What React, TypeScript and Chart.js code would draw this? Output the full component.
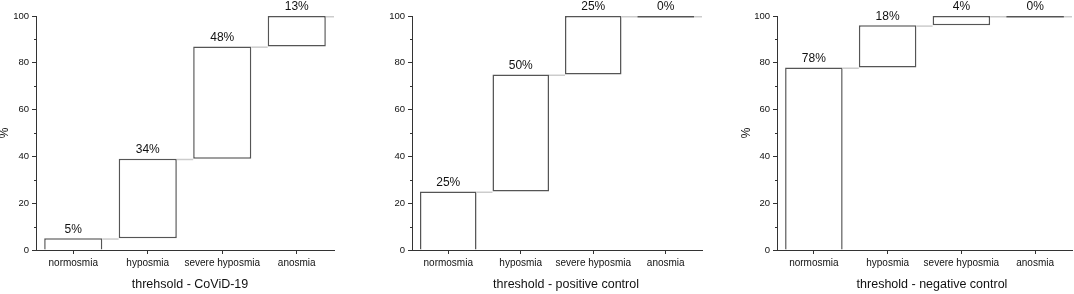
import React, { useEffect, useRef } from "react";
import { Chart, registerables } from "chart.js";

Chart.register(...registerables);

const CATEGORIES = ["normosmia", "hyposmia", "severe hyposmia", "anosmia"];
const COVID_PCT = [5, 34, 48, 13];
const POSITIVE_PCT = [25, 50, 25, 0];
const NEGATIVE_PCT = [78, 18, 4, 0];
const Y_MIN = 0;
const Y_MAX = 100;
const Y_MAJOR_STEP = 20;
const Y_MINOR_TICKS = [10, 30, 50, 70, 90];
const TITLE_COVID = "threhsold - CoViD-19";
const TITLE_POSITIVE = "threshold - positive control";
const TITLE_NEGATIVE = "threshold - negative control";
const Y_LABEL = "%";

const FONT = "'Liberation Sans', Arial, Helvetica, sans-serif";
const TEXT = "#111111";
const AXIS = "#333333";
const BAR_BORDER = "#555555";
const CONNECTOR = "#cccccc";

type PanelCfg = {
  pct: number[];
  title: string;
  left: number;
  width: number;
  yWidth: number;
  padRight: number;
  showYTitle: boolean;
  yTitlePad: number;
  titleCenter: number;
};

const waterfallPlugin = {
  id: "waterfallExtras",
  afterDatasetsDraw(chart: any, _args: any, opts: any) {
    const { ctx, chartArea } = chart;
    const yScale = chart.scales.y;
    const meta = chart.getDatasetMeta(0);
    const pct: number[] = opts.pct;
    const ranges: number[][] = chart.data.datasets[0].data;
    ctx.save();
    // connectors
    ctx.strokeStyle = CONNECTOR;
    ctx.lineWidth = 1.5;
    for (let i = 0; i < meta.data.length; i++) {
      const el = meta.data[i];
      const { x, width } = el.getProps(["x", "width"], true);
      const level = yScale.getPixelForValue(ranges[i][1]) + 0.75;
      const x0 = x + width / 2;
      let x1 = chartArea.right;
      if (i < meta.data.length - 1) {
        const nx = meta.data[i + 1].getProps(["x", "width"], true);
        x1 = nx.x - nx.width / 2;
      }
      ctx.beginPath();
      ctx.moveTo(x0, level);
      ctx.lineTo(x1, level);
      ctx.stroke();
    }
    // zero-height bars
    ctx.strokeStyle = BAR_BORDER;
    ctx.lineWidth = 1.5;
    for (let i = 0; i < meta.data.length; i++) {
      if (ranges[i][1] === ranges[i][0]) {
        const { x, width } = meta.data[i].getProps(["x", "width"], true);
        const level = yScale.getPixelForValue(ranges[i][1]) + 0.75;
        ctx.beginPath();
        ctx.moveTo(x - width / 2, level);
        ctx.lineTo(x + width / 2, level);
        ctx.stroke();
      }
    }
    // value labels
    ctx.fillStyle = TEXT;
    ctx.font = `12px ${FONT}`;
    ctx.textAlign = "center";
    ctx.textBaseline = "middle";
    for (let i = 0; i < meta.data.length; i++) {
      const { x } = meta.data[i].getProps(["x"], true);
      const top = yScale.getPixelForValue(ranges[i][1]);
      ctx.fillText(`${pct[i]}%`, x, top - 9);
    }
    // minor ticks
    ctx.strokeStyle = AXIS;
    ctx.lineWidth = 1;
    for (const v of Y_MINOR_TICKS) {
      const py = Math.round(yScale.getPixelForValue(v)) + 0.5;
      ctx.beginPath();
      ctx.moveTo(chartArea.left - 2, py);
      ctx.lineTo(chartArea.left, py);
      ctx.stroke();
    }
    // x title
    ctx.fillStyle = TEXT;
    ctx.font = `12.5px ${FONT}`;
    ctx.textAlign = "center";
    ctx.textBaseline = "middle";
    ctx.fillText(opts.title, opts.titleCenter, 285);
    ctx.restore();
  },
};

function Panel({ cfg }: { cfg: PanelCfg }) {
  const ref = useRef<HTMLCanvasElement | null>(null);
  useEffect(() => {
    if (!ref.current) return;
    const ranges: number[][] = [];
    let acc = 0;
    for (const p of cfg.pct) {
      ranges.push([acc, acc + p]);
      acc += p;
    }
    const chart = new Chart(ref.current, {
      type: "bar",
      data: {
        labels: CATEGORIES,
        datasets: [
          {
            data: ranges as any,
            backgroundColor: "#ffffff",
            borderColor: BAR_BORDER,
            borderWidth: 1.5,
            borderSkipped: (c: any) => (ranges[c.dataIndex] && ranges[c.dataIndex][0] === Y_MIN ? "bottom" : false),
            barPercentage: 0.78,
            categoryPercentage: 1,
          },
        ],
      },
      plugins: [waterfallPlugin],
      options: {
        responsive: false,
        animation: false,
        devicePixelRatio: 1,
        layout: { padding: { top: 16, right: cfg.padRight, bottom: 0, left: 0 } },
        plugins: {
          legend: { display: false },
          tooltip: { enabled: false },
          waterfallExtras: { pct: cfg.pct, title: cfg.title, titleCenter: cfg.titleCenter },
        } as any,
        scales: {
          x: {
            type: "category",
            offset: true,
            grid: { display: true, offset: false, drawOnChartArea: false, drawTicks: true, tickLength: 4, color: AXIS },
            border: { display: true, color: AXIS, width: 1, z: 1 },
            ticks: {
              color: TEXT,
              font: { family: FONT, size: 10 },
              padding: 3,
              maxRotation: 0,
              autoSkip: false,
            },
            afterFit: (s: any) => {
              s.height = 44;
            },
          },
          y: {
            min: Y_MIN,
            max: Y_MAX,
            grid: { display: true, drawOnChartArea: false, drawTicks: true, tickLength: 4, color: AXIS },
            border: { display: true, color: AXIS, width: 1, z: 1 },
            ticks: {
              stepSize: Y_MAJOR_STEP,
              color: TEXT,
              font: { family: FONT, size: 9.5 },
              padding: 3,
            },
            title: {
              display: cfg.showYTitle,
              text: Y_LABEL,
              color: TEXT,
              font: { family: FONT, size: 12, lineHeight: 10 / 12 },
              padding: { top: cfg.yTitlePad, bottom: 0 },
            },
            afterFit: (s: any) => {
              s.width = cfg.yWidth;
            },
          },
        },
      } as any,
    });
    return () => chart.destroy();
  }, [cfg]);
  return (
    <canvas
      ref={ref}
      width={cfg.width}
      height={294}
      style={{ position: "absolute", left: cfg.left, top: 0, width: cfg.width, height: 294 }}
    />
  );
}

const PANELS: PanelCfg[] = [
  { pct: COVID_PCT, title: TITLE_COVID, left: 0, width: 340, yWidth: 36, padRight: 6, showYTitle: true, yTitlePad: 0, titleCenter: 190 },
  { pct: POSITIVE_PCT, title: TITLE_POSITIVE, left: 380, width: 330, yWidth: 32, padRight: 8, showYTitle: false, yTitlePad: 0, titleCenter: 186 },
  { pct: NEGATIVE_PCT, title: TITLE_NEGATIVE, left: 740, width: 334, yWidth: 37, padRight: 2, showYTitle: true, yTitlePad: 2, titleCenter: 192 },
];

export default function App() {
  return (
    <div style={{ position: "absolute", left: 0, top: 0, width: 1074, height: 294, background: "#ffffff", overflow: "hidden" }}>
      {PANELS.map((p, i) => (
        <Panel key={i} cfg={p} />
      ))}
    </div>
  );
}
